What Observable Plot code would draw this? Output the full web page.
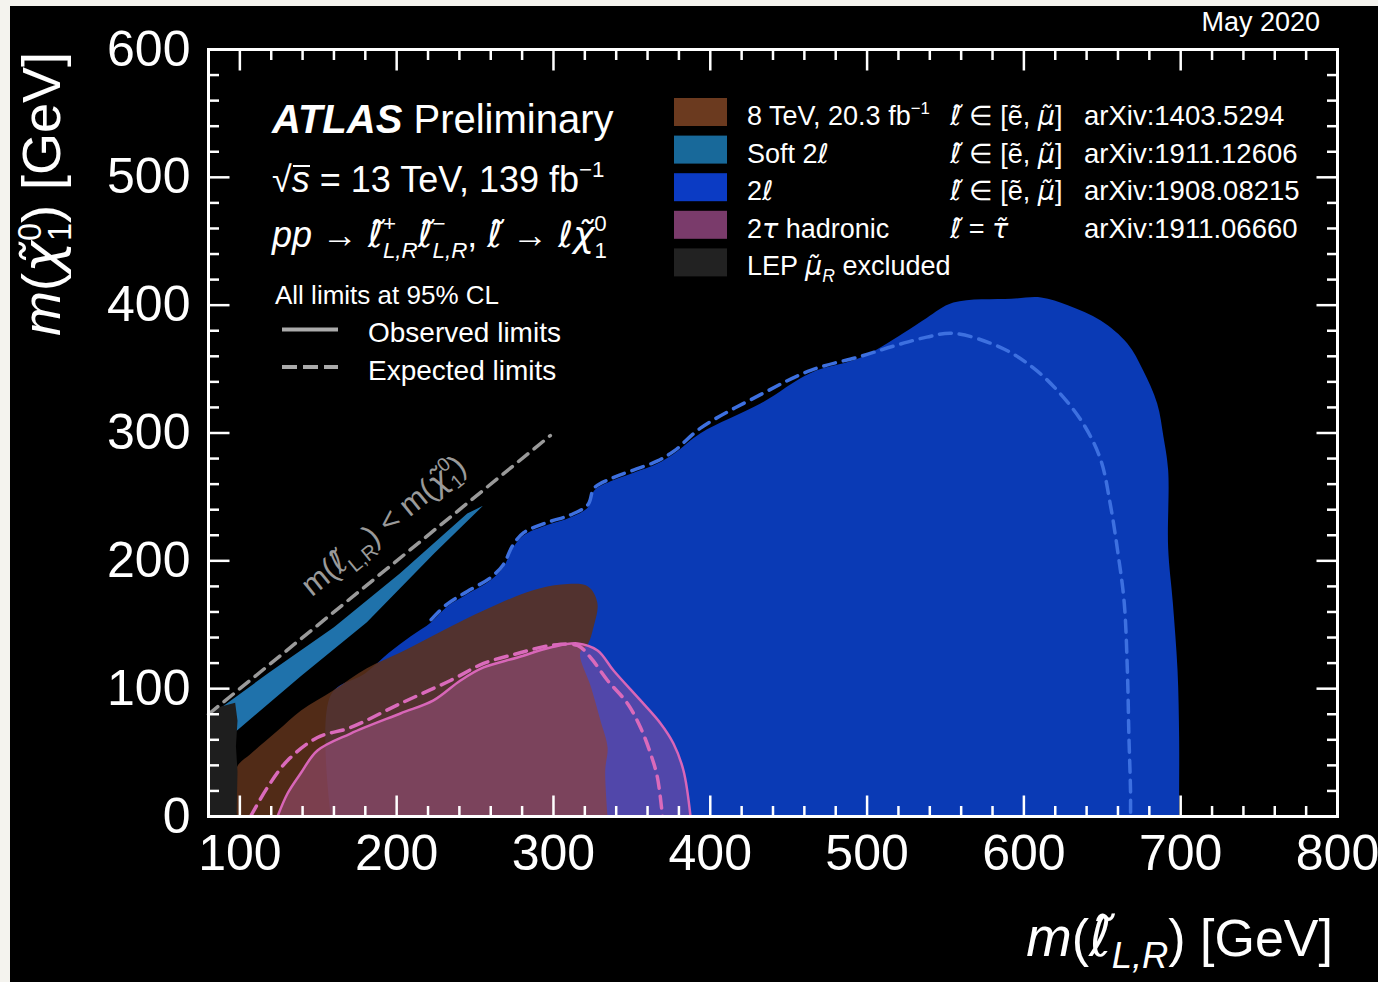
<!DOCTYPE html>
<html><head><meta charset="utf-8">
<script src="https://cdn.jsdelivr.net/npm/d3@7"></script>
<script src="https://cdn.jsdelivr.net/npm/@observablehq/plot@0.6"></script>
<style>
html,body{margin:0;padding:0;background:#f4f3ee;}
#wrap{position:absolute;left:10px;top:6px;width:1368px;height:976px;background:#000;overflow:hidden}
</style></head><body><div id="wrap"></div>
<script>
// ---------------- data ----------------
const xDomain = [80, 800];
const yDomain = [0, 600];
const xMajor = [100, 200, 300, 400, 500, 600, 700, 800];
const yMajor = [0, 100, 200, 300, 400, 500, 600];

// 2l (arXiv:1908.08215) observed exclusion contour
const twoLepObs = [[158,0],[158,95],[180,112],[195,128],[209,141],[222,152],[232,164],[245,174],[260,185],[268,195],[274,210],[281,220],[296,228],[311,234],[322,242],[326,255],[338,263],[351,269],[366,276],[377,284],[394,300],[432,323],[464,347],[496,359],[523,378],[538,390],[555,402],[592,405],[611,406],[628,400],[649,388],[666,370],[676,349],[685,323],[689,297],[692,271],[692,210],[695,167],[698,114],[699,62],[699,20],[699,0]];
// 2l expected contour
const twoLepExp = [[222,154],[232,166],[245,176],[260,187],[268,197],[274,212],[281,222],[296,230],[311,236],[322,244],[326,257],[338,265],[351,271],[366,278],[377,286],[394,304],[432,330],[464,349],[496,360],[517,368],[538,375],[555,378],[585,367],[606,351],[623,331],[638,307],[649,279],[655,245],[660,206],[664,167],[666,114],[667,62],[668,20],[668,0]];
// Soft 2l (arXiv:1911.12606)
const soft2l = [[80,78],[118,112],[160,148],[202,190],[245,237],[255,243],[224,206],[181,152],[139,110],[98,67],[80,62]];
// 8 TeV, 20.3 fb-1 (arXiv:1403.5294)
const run1 = [[97.9,0],[97.9,38],[107,49],[124,67],[139,83],[160,99],[181,116],[202,128],[224,142],[245,155],[266,167],[287,177],[305,181.5],[322,180],[328,167],[325.5,148],[322,135],[317,128],[324,101],[330,75],[334.5,54],[333,36],[334.5,0]];
// 2tau hadronic (arXiv:1911.06660)
const tauObs = [[124,0],[130.4,18],[138.7,33.6],[149.5,51.6],[170.6,64.9],[202.4,80.6],[223.5,90.8],[240.7,106.4],[255.4,116.6],[277.1,124.4],[298.1,132.2],[315.3,135.4],[328.1,129.9],[338.3,114.2],[355.5,90.8],[368.3,72.8],[376.5,57.1],[382.9,36],[387.4,0]];
const tauExp = [[106.8,0],[117.6,22.7],[130.4,43.8],[149.5,61.8],[170.6,69.6],[202.4,88.4],[234.3,106.4],[255.4,119.7],[277.1,127.5],[298.1,133.8],[315.3,133.8],[323.6,124.4],[334.5,106.4],[347.2,88.4],[355.5,69.6],[361.9,49.3],[366.3,30.5],[369.5,0]];
// LEP smuon_R excluded
const lep = [[80,0],[80,80],[88,86],[97,89],[98.5,75],[97.5,55],[98.5,35],[97.9,0]];
// kinematic limit m(slepton) = m(chi)
const kinLimit = [[80,80],[298,298]];
const diagLabelAt = [196, 221];

const legendLabels = ["8 TeV, 20.3 fb", "Soft 2", "2", "2τ hadronic", "LEP μ̃R excluded"];
const legendColors = ["#6b3a1f", "#18699a", "#0b3bc4", "#7a3b6b", "#222222"];
const legendRefs = ["arXiv:1403.5294", "arXiv:1911.12606", "arXiv:1908.08215", "arXiv:1911.06660", ""];

// ---------------- helpers ----------------
const pts = a => a.map(([x, y]) => ({x, y}));
const FONT = "'Liberation Sans', Arial, Helvetica, sans-serif";
const MATH = "'DejaVu Sans', sans-serif";
const xMinor = d3.range(80, 801, 20).filter(v => v % 100 && v > 80);
const yMinor = d3.range(0, 601, 20).filter(v => v % 100);
const tickShape = {draw(ctx, l) { ctx.moveTo(0, 0); ctx.lineTo(0, -l); }};
const tk = {anchor: "start", shape: tickShape, stroke: "white", strokeWidth: 2.5, strokeLinecap: "butt"};

const chart = Plot.plot({
  width: 1368, height: 976,
  marginLeft: 198, marginRight: 41, marginTop: 43, marginBottom: 166,
  style: {background: "black", color: "white", fontFamily: FONT, overflow: "visible"},
  x: {domain: xDomain},
  y: {domain: yDomain},
  marks: [
    Plot.line(pts(twoLepObs), {x: "x", y: "y", fill: "#0a3ab5", stroke: "none", curve: "catmull-rom", clip: true}),
    Plot.line(pts(twoLepExp), {x: "x", y: "y", stroke: "#3d70e0", strokeWidth: 3.5, strokeDasharray: "12,8", curve: "catmull-rom", clip: true}),
    Plot.line(pts(soft2l), {x: "x", y: "y", fill: "#1f72ab", stroke: "none", clip: true}),
    Plot.line(pts(run1), {x: "x", y: "y", fill: "#5d311a", fillOpacity: 0.87, stroke: "none", curve: "catmull-rom", clip: true}),
    Plot.line(pts(tauObs), {x: "x", y: "y", fill: "#b65a9a", fillOpacity: 0.42, stroke: "none", curve: "catmull-rom", clip: true}),
    Plot.line(pts(tauExp), {x: "x", y: "y", stroke: "#da6abb", strokeWidth: 3.5, strokeDasharray: "12,8", curve: "catmull-rom", clip: true}),
    Plot.line(pts(tauObs), {x: "x", y: "y", stroke: "#d866b8", strokeWidth: 2.5, curve: "catmull-rom", clip: true}),
    Plot.line(pts(lep), {x: "x", y: "y", fill: "#1e1e1e", stroke: "none", clip: true}),
    Plot.line(pts(kinLimit), {x: "x", y: "y", stroke: "#9a9a9a", strokeWidth: 3.5, strokeDasharray: "12,8"}),
    // ticks (inward)
    Plot.vector(xMajor, {...tk, x: d => d, y: () => 0, length: 21, rotate: 0}),
    Plot.vector(xMinor, {...tk, x: d => d, y: () => 0, length: 10.5, rotate: 0}),
    Plot.vector(xMajor, {...tk, x: d => d, y: () => 600, length: 21, rotate: 180}),
    Plot.vector(xMinor, {...tk, x: d => d, y: () => 600, length: 10.5, rotate: 180}),
    Plot.vector(yMajor, {...tk, y: d => d, x: () => 80, length: 21, rotate: 90}),
    Plot.vector(yMinor, {...tk, y: d => d, x: () => 80, length: 10.5, rotate: 90}),
    Plot.vector(yMajor, {...tk, y: d => d, x: () => 800, length: 21, rotate: -90}),
    Plot.vector(yMinor, {...tk, y: d => d, x: () => 800, length: 10.5, rotate: -90}),
    Plot.axisX({anchor: "bottom", ticks: xMajor, tickSize: 0, tickPadding: 18, fontSize: 50, label: null, tickFormat: d => String(d)}),
    Plot.axisY({anchor: "left", ticks: yMajor, tickSize: 0, tickPadding: 18, fontSize: 50, label: null, tickFormat: d => String(d)}),
    Plot.frame({stroke: "white", strokeWidth: 3})
  ]
});
document.getElementById("wrap").append(chart);

// rich text helper: parts {t, s: shift(em, up), k: size factor, i, b, f, dx (em)}
function rich(g, x, y, size, parts, opt = {}) {
  const t = g.append("text")
    .attr("transform", `translate(${x},${y})` + (opt.rotate ? ` rotate(${opt.rotate})` : ""))
    .attr("font-size", size)
    .attr("text-anchor", opt.anchor || "start")
    .attr("fill", opt.fill || "white");
  let shift = 0;
  for (const p of parts) {
    const s = p.s || 0;
    const ts = t.append("tspan").text(p.t);
    const dy = -(s - shift) * size;
    if (dy) ts.attr("dy", dy);
    if (p.dx) ts.attr("dx", p.dx * size);
    if (p.k) ts.attr("font-size", size * p.k);
    if (p.i) ts.attr("font-style", "italic");
    if (p.b) ts.attr("font-weight", "bold");
    if (p.f) ts.attr("font-family", p.f);
    shift = s;
  }
  return t;
}
const L = () => ({t: "ℓ\u0303", i: 1, f: MATH});
const CHI = () => ({t: "χ\u0303", i: 1, f: MATH});
const MU = () => ({t: "μ\u0303", i: 1, f: MATH});
const TAU = () => ({t: "τ\u0303", i: 1, f: MATH});
const ELL = () => ({t: "ℓ", i: 1, f: MATH});
const root = d3.select(chart);
const ann = root.append("g").attr("font-family", FONT);
const sx = chart.scale("x"), sy = chart.scale("y");

// diagonal label along the kinematic limit
rich(ann, sx.apply(diagLabelAt[0]), sy.apply(diagLabelAt[1]), 31, [
  {t: "m("}, L(), {t: "L,R", s: -0.28, k: 0.65}, {t: ") < m(", s: 0}, CHI(),
  {t: "0", s: 0.42, k: 0.62}, {t: "1", s: -0.28, k: 0.62, dx: -0.556 * 0.62}, {t: ")", s: 0}
], {anchor: "middle", rotate: -39.2, fill: "#9a9a9a"});

// top-right date
rich(ann, 1310, 25, 27, [{t: "May 2020"}], {anchor: "end"});

// ATLAS block
rich(ann, 262, 127, 40, [{t: "ATLAS", b: 1, i: 1}, {t: " Preliminary"}]);
rich(ann, 262, 186, 36, [{t: "√"}, {t: "s", i: 1}, {t: " = 13 TeV, 139 fb"}, {t: "−1", s: 0.42, k: 0.62}]);
ann.append("line").attr("x1", 283).attr("x2", 300).attr("y1", 160).attr("y2", 160).attr("stroke", "white").attr("stroke-width", 2);
const ws = 0.584 * 0.62, wd = 0.556 * 0.62;
rich(ann, 262, 241, 36, [
  {t: "pp", i: 1}, {t: " → "}, L(),
  {t: "+", s: 0.45, k: 0.62}, {t: "L,R", s: -0.3, k: 0.62, i: 1, dx: -ws},
  {...L(), s: 0}, {t: "−", s: 0.45, k: 0.62}, {t: "L,R", s: -0.3, k: 0.62, i: 1, dx: -ws},
  {t: ", ", s: 0}, L(), {t: " → "}, ELL(), CHI(),
  {t: "0", s: 0.45, k: 0.62}, {t: "1", s: -0.3, k: 0.62, dx: -wd}
]);
rich(ann, 265, 298, 26, [{t: "All limits at 95% CL"}]);
ann.append("line").attr("x1", 272).attr("x2", 328).attr("y1", 323.5).attr("y2", 323.5).attr("stroke", "#aaaaaa").attr("stroke-width", 4);
ann.append("line").attr("x1", 272).attr("x2", 328).attr("y1", 361).attr("y2", 361).attr("stroke", "#aaaaaa").attr("stroke-width", 4).attr("stroke-dasharray", "15,6");
rich(ann, 358, 336, 28, [{t: "Observed limits"}]);
rich(ann, 358, 374, 28, [{t: "Expected limits"}]);

// legend
const col1 = [
  [{t: legendLabels[0]}, {t: "−1", s: 0.42, k: 0.62}],
  [{t: legendLabels[1]}, ELL()],
  [{t: legendLabels[2]}, ELL()],
  [{t: "2"}, {t: "τ", i: 1, f: MATH}, {t: " hadronic"}],
  [{t: "LEP "}, MU(), {t: "R", s: -0.25, k: 0.65, i: 1}, {t: " excluded", s: 0}]
];
const flav = () => [L(), {t: " ∈ [ẽ, "}, MU(), {t: "]"}];
const col2 = [flav(), flav(), flav(), [L(), {t: " = "}, TAU()], null];
legendColors.forEach((c, i) => {
  const top = 92 + i * 37.6;
  ann.append("rect").attr("x", 664).attr("y", top).attr("width", 53).attr("height", 28).attr("fill", c);
  rich(ann, 737, top + 27, 27, col1[i]);
  if (col2[i]) rich(ann, 940, top + 27, 27, col2[i]);
  if (legendRefs[i]) rich(ann, 1074, top + 27, 27.5, [{t: legendRefs[i]}]);
});

// axis titles
rich(ann, 50, 46, 54, [{t: "m", i: 1}, {t: "("}, CHI(), {t: "0", s: 0.36, k: 0.6}, {t: "1", s: -0.2, k: 0.6, dx: -0.556 * 0.6}, {t: ") [GeV]", s: 0}], {anchor: "end", rotate: -90});
rich(ann, 1323, 950, 52, [{t: "m", i: 1, k: 1.05}, {t: "("}, {...L(), k: 1.05}, {t: "L,R", s: -0.24, k: 0.7, i: 1}, {t: ") [GeV]", s: 0}], {anchor: "end"});
</script></body></html>
